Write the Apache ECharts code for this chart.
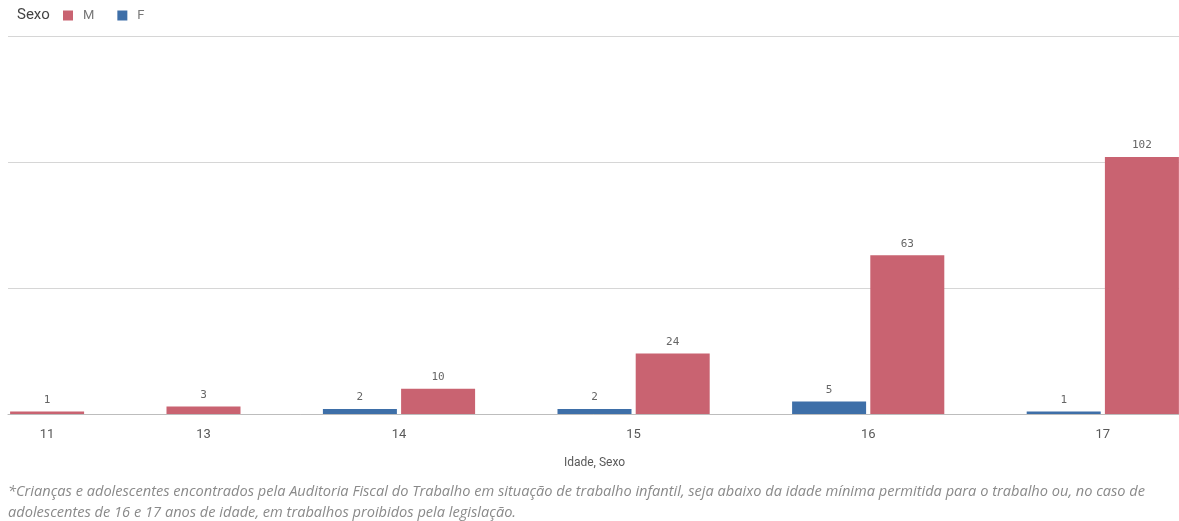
<!DOCTYPE html>
<html><head><meta charset="utf-8">
<script src="https://cdn.jsdelivr.net/npm/echarts@6/dist/echarts.min.js"></script>
<style>html,body{margin:0;padding:0;background:#fff}#c{width:1179px;height:521px}</style>
</head><body><div id="c"></div>
<script>
const ages = ['11','13','14','15','16','17'];
const valuesM = [1, 3, 10, 24, 63, 102];
const valuesF = [null, null, 2, 2, 5, 1];
const yTicks = [0, 50, 100, 150];
const footnote = ['*Crianças e adolescentes encontrados pela Auditoria Fiscal do Trabalho em situação de trabalho infantil, seja abaixo da idade mínima permitida para o trabalho ou, no caso de',
  'adolescentes de 16 e 17 anos de idade, em trabalhos proibidos pela legislação.'];

// build slot layout: F then M in each group, one empty slot between groups
const slots = [], dataF = [], dataM = [], labelPos = {};
ages.forEach((a, i) => {
  if (i > 0) { slots.push(''); dataF.push(null); dataM.push(null); }
  const start = slots.length;
  if (valuesF[i] != null) { slots.push(a + 'F'); dataF.push(valuesF[i]); dataM.push(null); }
  if (valuesM[i] != null) { slots.push(a + 'M'); dataM.push(valuesM[i]); dataF.push(null); }
  labelPos[((start + slots.length) / 2).toFixed(1)] = a;
});

const chart = echarts.init(document.getElementById('c'));
const lbl = {show: true, position: 'top', distance: 6, color: '#666', fontFamily: 'DejaVu Sans Mono', fontSize: 11};
chart.setOption({
  animation: false,
  color: ['#c96371', '#3e6fa8'],
  legend: {data: ['M', 'F'], left: 58, top: 4, icon: 'rect', itemWidth: 10, itemHeight: 10, itemGap: 23,
    textStyle: {color: '#777', fontSize: 13, fontFamily: 'Roboto', padding: [0, 0, 0, 5]}},
  grid: {left: 8, right: -2, top: 36, bottom: 107, containLabel: false, outerBoundsMode: 'none'},
  xAxis: [
    {type: 'category', data: slots, axisLabel: {show: false}, axisTick: {show: false},
      axisLine: {lineStyle: {color: '#bdbdbd', width: 1}}},
    {type: 'value', min: 0, max: slots.length, interval: 0.5, position: 'bottom',
      axisLine: {show: false}, axisTick: {show: false}, splitLine: {show: false},
      axisLabel: {margin: 14, color: '#595959', fontSize: 13, fontFamily: 'Roboto', showMinLabel: true, showMaxLabel: true,
        formatter: v => labelPos[v.toFixed(1)] || ''},
      name: 'Idade, Sexo', nameLocation: 'middle', nameGap: 43,
      nameTextStyle: {color: '#595959', fontSize: 12, fontFamily: 'Roboto'}}
  ],
  yAxis: {type: 'value', min: yTicks[0], max: yTicks[yTicks.length - 1], interval: yTicks[1] - yTicks[0],
    axisLabel: {show: false}, axisLine: {show: false}, axisTick: {show: false},
    splitLine: {lineStyle: {color: '#d6d6d6', width: 1}}},
  series: [
    {name: 'M', type: 'bar', xAxisIndex: 0, data: dataM, barWidth: 74, barGap: '-100%', label: lbl},
    {name: 'F', type: 'bar', xAxisIndex: 0, data: dataF, barWidth: 74, barGap: '-100%', label: lbl}
  ],
  graphic: [
    {type: 'text', left: 17, top: 8, style: {text: 'Sexo', fill: '#444', fontSize: 15, fontFamily: 'Roboto'}},
    {type: 'text', left: 8, top: 484, style: {text: footnote[0], fill: '#8a8a8a', fontSize: 14.6, fontStyle: 'italic', fontFamily: 'Open Sans'}},
    {type: 'text', left: 8, top: 505, style: {text: footnote[1], fill: '#8a8a8a', fontSize: 14.6, fontStyle: 'italic', fontFamily: 'Open Sans'}}
  ]
});
</script></body></html>
